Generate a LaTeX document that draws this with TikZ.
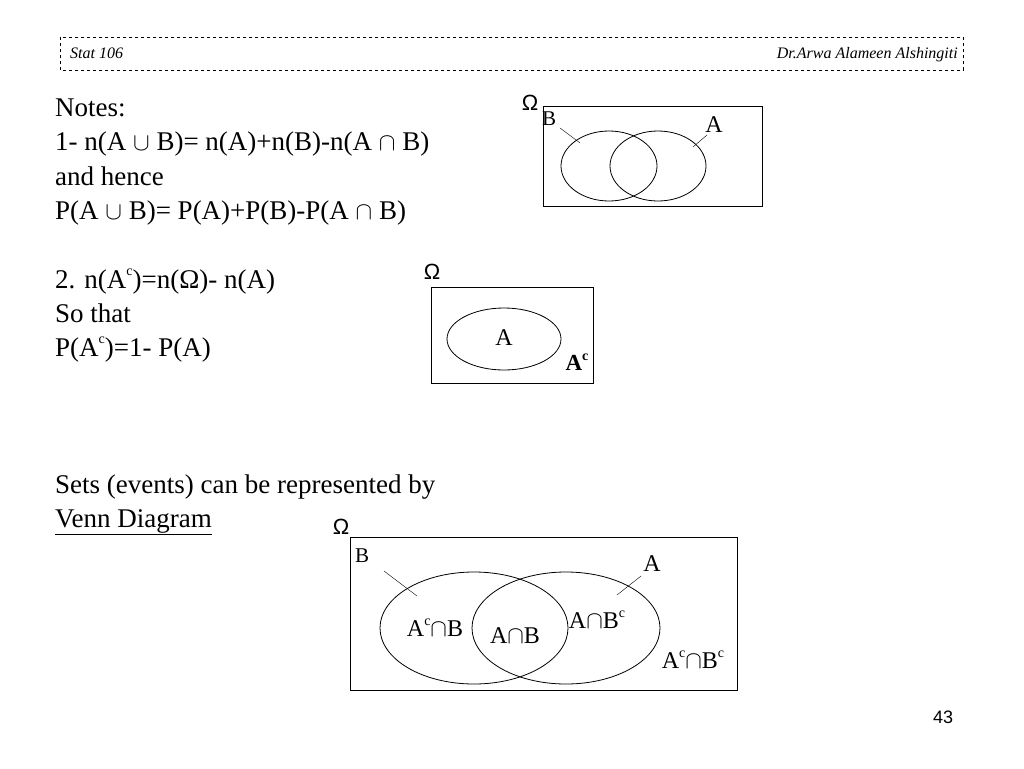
\documentclass[tikz,border=0pt]{standalone}
\usepackage{fontspec}
\setmainfont{Liberation Serif}
\newfontfamily\sansf{Liberation Sans}
\newcommand{\sq}[1]{\raisebox{0.45em}{\fontsize{14}{14}\selectfont #1}}
\begin{document}
\begin{tikzpicture}[x=1pt,y=-1pt,
  txt/.style={anchor=base west,inner sep=0pt,font=\fontsize{27}{27}\selectfont},
  lbl/.style={inner sep=0pt,font=\fontsize{24}{24}\selectfont},
  om/.style={inner sep=0pt,font=\sansf\fontsize{22}{22}\selectfont},
  box/.style={draw,line width=0.8pt},
  ring/.style={draw,line width=0.8pt}]
\useasboundingbox (0,0) rectangle (1024,768);
\draw[dashed,line width=0.6pt] (60,37) rectangle (963,70);
\node[anchor=base west,inner sep=0pt,font=\itshape\fontsize{16}{16}\selectfont] (h1) at (70,59) {Stat 106};
\node[anchor=base east,inner sep=0pt,font=\itshape\fontsize{16}{16}\selectfont] (h2) at (958,59) {Dr.Arwa Alameen Alshingiti};
% notes
\node[txt] (t1) at (55,116) {Notes:};
\node[txt] (t2) at (55,150) {1- n(A $\cup$ B)= n(A)+n(B)-n(A $\cap$ B)};
\node[txt] (t3) at (55,185) {and hence};
\node[txt] (t4) at (55,219) {P(A $\cup$ B)= P(A)+P(B)-P(A $\cap$ B)};
\node[txt] (t5) at (55,288) {2. n(A\sq{c})=n(Ω)- n(A)};
\node[txt] (t6) at (55,322) {So that};
\node[txt] (t7) at (55,356) {P(A\sq{c})=1- P(A)};
\node[txt] (t8) at (55,493) {Sets (events) can be represented by};
\node[txt] (t9) at (55,527) {\underline{Venn Diagram}};
% Venn 1
\node[om] (o1) at (530,103) {Ω};
\draw[box] (543,106) rectangle (762,206);
\draw[ring] (609,166) ellipse (48 and 35);
\draw[ring] (658,166) ellipse (48 and 35);
\node[lbl,font=\fontsize{21}{21}\selectfont] (b1) at (549,119) {B};
\node[lbl] (a1) at (714,125) {A};
\coordinate (b1e) at (580,143); \coordinate (a1e) at (693,147);
\draw (560,128) -- (b1e); \draw (707,135) -- (a1e);
% Venn 2
\node[om] (o2) at (432,272) {Ω};
\draw[box] (431,287) rectangle (593,383);
\draw[ring] (504,339) ellipse (57 and 31);
\node[lbl] (a2) at (504,338) {A};
\node[lbl,font=\bfseries\fontsize{23}{23}\selectfont] (ac2) at (577,362) {A\sq{c}};
% Venn 3
\node[om] (o3) at (341,527) {Ω};
\draw[box] (350,537) rectangle (737,690);
\draw[ring] (474,628) ellipse (94 and 56);
\draw[ring] (566,628) ellipse (94 and 56);
\node[lbl,font=\fontsize{21}{21}\selectfont] (b3) at (362,556) {B};
\node[lbl] (a3) at (652,564) {A};
\draw (384,571) -- (417,596); \draw (641,576) -- (617,595);
\node[lbl] (r1) at (435,628) {A\sq{c}$\cap$B};
\node[lbl] (r2) at (515,636) {A$\cap$B};
\node[lbl] (r3) at (597,620) {A$\cap$B\sq{c}};
\node[lbl] (r4) at (693,660) {A\sq{c}$\cap$B\sq{c}};
\node[inner sep=0pt,font=\sansf\fontsize{18}{18}\selectfont] (pg) at (943,717) {43};
\end{tikzpicture}
\end{document}
